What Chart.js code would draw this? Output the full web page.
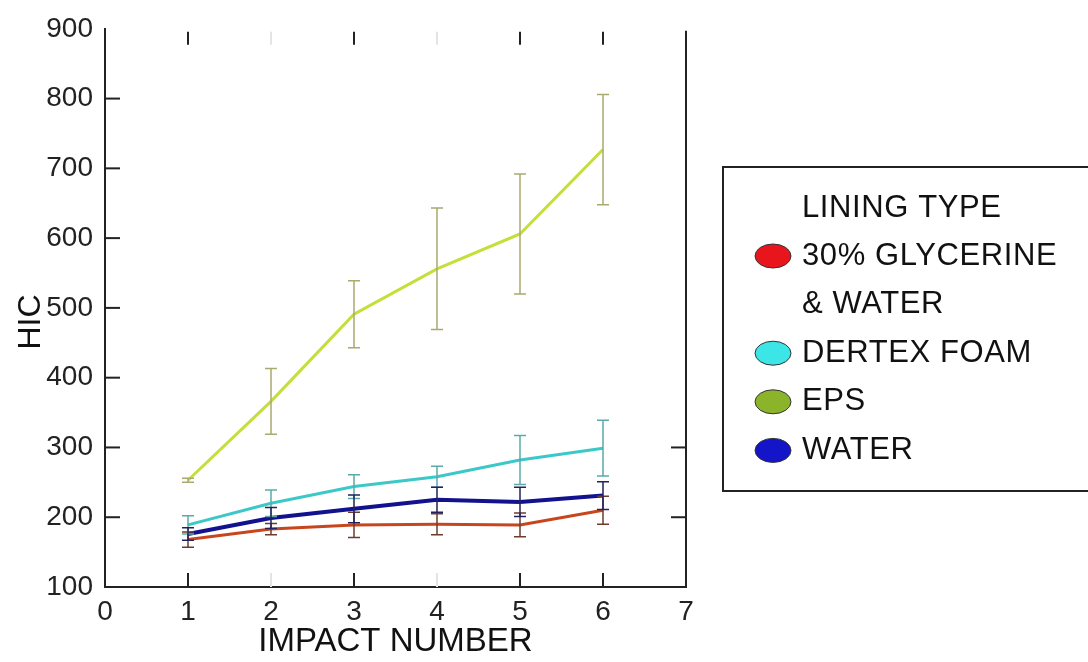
<!DOCTYPE html>
<html>
<head>
<meta charset="utf-8">
<script src="https://cdn.jsdelivr.net/npm/chart.js@4/dist/chart.umd.min.js"></script>
<style>
  html, body { margin: 0; padding: 0; background: #fff; }
  #wrap { width: 1088px; height: 662px; position: relative; }
</style>
</head>
<body>
<div id="wrap"><canvas id="graph"></canvas></div>
<script>
const impacts = [1, 2, 3, 4, 5, 6];

const glycerine = [168, 183, 189, 190, 189, 210];
const glycerineErr = [11, 8, 18, 15, 17, 20];
const dertex = [189, 220, 244, 258, 282, 299];
const dertexErr = [13, 19, 17, 15, 35, 40];
const eps = [253, 366, 491, 556, 606, 727];
const epsErr = [3, 47, 48, 87, 86, 79];
const water = [176, 199, 212, 225, 222, 231];
const waterErr = [9, 15, 20, 18, 21, 20];

const xTicks = [0, 1, 2, 3, 4, 5, 6, 7];
const yTicks = [100, 200, 300, 400, 500, 600, 700, 800, 900];

const legendTitle = 'LINING TYPE';
const legendColours = ['#e8161c', '#3ce6e6', '#8cb42a', '#1414c8'];

const FONT = "'Liberation Sans', Arial, sans-serif";
Chart.defaults.font.family = FONT;
Chart.defaults.color = '#222';

const pts = vals => vals.map((v, i) => ({ x: impacts[i], y: v }));

const datasets = [
    { label: ['30% GLYCERINE', '& WATER'], data: pts(glycerine), errors: glycerineErr,
      borderColor: '#c8461e', errColor: '#6e3c2c', borderWidth: 3 },
    { label: ['DERTEX FOAM'], data: pts(dertex), errors: dertexErr,
      borderColor: '#3cc8c8', errColor: '#5aaaaa', borderWidth: 3 },
    { label: ['EPS'], data: pts(eps), errors: epsErr,
      borderColor: '#c4df3a', errColor: '#a8aa70', borderWidth: 3 },
    { label: ['WATER'], data: pts(water), errors: waterErr,
      borderColor: '#12128e', errColor: '#22225e', borderWidth: 4 }
].map(d => Object.assign(d, { pointRadius: 0, tension: 0, fill: false }));

// box edges and the inward tick marks
const frame = {
    id: 'frame',
    afterDraw(chart) {
        const { ctx, chartArea: a, scales: { x, y } } = chart;
        ctx.save();
        ctx.lineCap = 'butt';
        ctx.strokeStyle = '#222';
        ctx.lineWidth = 2;
        ctx.beginPath();
        ctx.moveTo(a.right, a.top + 2);
        ctx.lineTo(a.right, a.bottom);
        ctx.stroke();

        yTicks.slice(1, -1).forEach(v => {
            const py = y.getPixelForValue(v);
            ctx.beginPath();
            ctx.moveTo(a.left, py);
            ctx.lineTo(a.left + 15, py);
            ctx.stroke();
            if (v <= 300) {
                ctx.beginPath();
                ctx.moveTo(a.right, py);
                ctx.lineTo(a.right - 15, py);
                ctx.stroke();
            }
        });

        impacts.forEach(v => {
            const px = x.getPixelForValue(v);
            ctx.strokeStyle = (v === 2 || v === 4) ? '#e4e4e4' : '#222';
            ctx.beginPath();
            ctx.moveTo(px, a.bottom);
            ctx.lineTo(px, a.bottom - 14);
            ctx.moveTo(px, a.top + 3);
            ctx.lineTo(px, a.top + 16);
            ctx.stroke();
        });
        ctx.restore();
    }
};

const errorBars = {
    id: 'errorBars',
    afterDatasetsDraw(chart) {
        const { ctx, scales: { x, y } } = chart;
        ctx.save();
        ctx.lineWidth = 1.5;
        chart.data.datasets.forEach(ds => {
            ctx.strokeStyle = ds.errColor;
            ds.data.forEach((p, i) => {
                const px = x.getPixelForValue(p.x);
                const hi = y.getPixelForValue(p.y + ds.errors[i]);
                const lo = y.getPixelForValue(p.y - ds.errors[i]);
                ctx.beginPath();
                ctx.moveTo(px, hi);
                ctx.lineTo(px, lo);
                ctx.moveTo(px - 6, hi);
                ctx.lineTo(px + 6, hi);
                ctx.moveTo(px - 6, lo);
                ctx.lineTo(px + 6, lo);
                ctx.stroke();
            });
        });
        ctx.restore();
    }
};

const axisTitle = {
    id: 'axisTitle',
    afterDraw(chart) {
        const { ctx } = chart;
        ctx.save();
        ctx.translate(31, 322);
        ctx.rotate(-Math.PI / 2);
        ctx.font = '32px ' + FONT;
        ctx.fillStyle = '#111';
        ctx.textAlign = 'center';
        ctx.textBaseline = 'middle';
        ctx.fillText('HIC', 0, 0);
        ctx.restore();
    }
};

const legendBox = {
    id: 'legendBox',
    afterDraw(chart) {
        const { ctx } = chart;
        const step = 48.6;
        ctx.save();
        ctx.strokeStyle = '#222';
        ctx.lineWidth = 2;
        ctx.strokeRect(723, 167, 420, 324);

        ctx.font = '31px ' + FONT;
        ctx.letterSpacing = '0.6px';
        ctx.fillStyle = '#111';
        ctx.textBaseline = 'middle';
        ctx.fillText(legendTitle, 802, 208);

        let row = 256;
        chart.data.datasets.forEach((ds, i) => {
            ctx.beginPath();
            ctx.ellipse(773, row, 18, 12, 0, 0, Math.PI * 2);
            ctx.fillStyle = legendColours[i];
            ctx.fill();
            ctx.lineWidth = 1;
            ctx.strokeStyle = '#333';
            ctx.stroke();
            ctx.fillStyle = '#111';
            ds.label.forEach(line => {
                ctx.fillText(line, 802, row);
                row += step;
            });
        });
        ctx.restore();
    }
};

new Chart(document.querySelector('#graph').getContext('2d'), {
    type: 'line',
    data: { datasets: datasets },
    options: {
        responsive: true,
        maintainAspectRatio: false,
        animation: false,
        layout: { padding: { top: 20, right: 402, left: 0, bottom: 0 } },
        plugins: { legend: { display: false }, tooltip: { enabled: false } },
        scales: {
            x: {
                type: 'linear',
                min: 0,
                max: 7,
                afterBuildTicks: s => { s.ticks = xTicks.map(v => ({ value: v })); },
                afterFit: s => { s.height = 75; },
                grid: { display: false, drawTicks: false },
                border: { display: true, color: '#222', width: 2 },
                ticks: { font: { size: 28 }, color: '#222', padding: 8, maxRotation: 0, autoSkip: false },
                title: { display: true, text: 'IMPACT NUMBER', font: { size: 33 }, color: '#111', padding: 0 }
            },
            y: {
                min: 100,
                max: 900,
                afterBuildTicks: s => { s.ticks = yTicks.map(v => ({ value: v })); },
                afterFit: s => { s.width = 105; },
                grid: { display: false, drawTicks: false },
                border: { display: true, color: '#222', width: 2 },
                ticks: { font: { size: 28 }, color: '#222', padding: 12 }
            }
        }
    },
    plugins: [frame, errorBars, axisTitle, legendBox]
});
</script>
</body>
</html>
